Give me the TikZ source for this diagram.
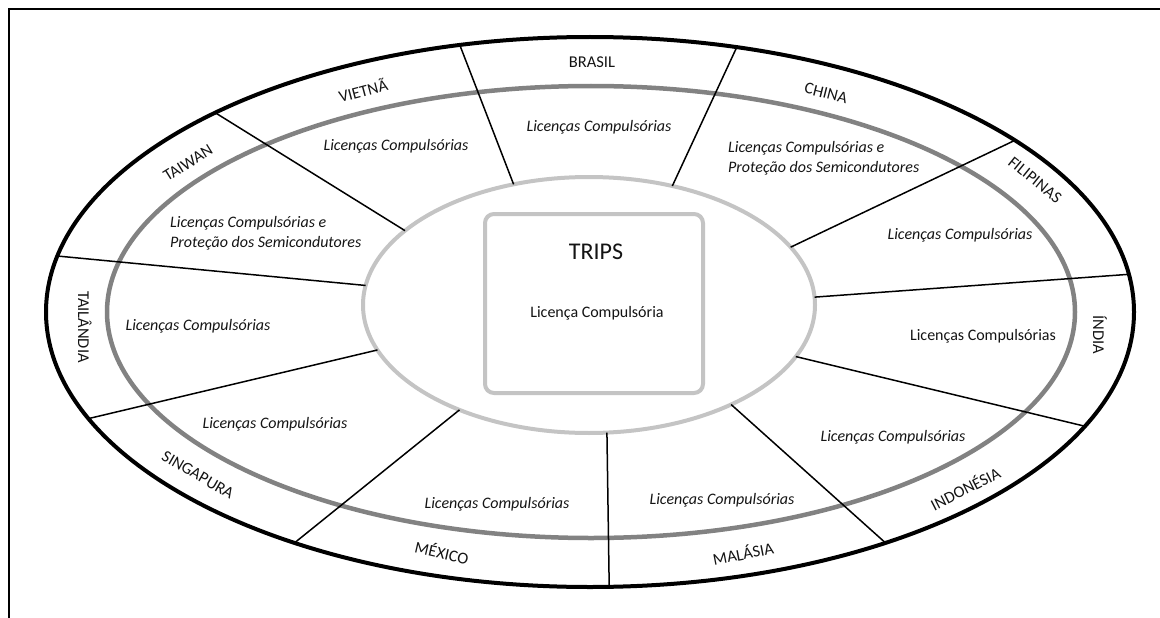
\documentclass[tikz,border=0pt]{standalone}
\usepackage{fontspec}
\setmainfont{Carlito}
\usetikzlibrary{shapes.geometric}
\definecolor{midgray}{RGB}{130,130,130}
\definecolor{softgray}{RGB}{196,196,196}
\definecolor{ink}{RGB}{20,20,20}
\tikzset{
  ring/.style={ellipse, inner sep=0pt, outer sep=0pt},
  frameline/.style={line width=2.5pt, black},
  divider/.style={line width=1.5pt, black},
  country/.style={font=\fontsize{16.5}{19}\selectfont, text=ink, inner sep=0pt},
  lic/.style={font=\fontsize{16}{20}\selectfont\itshape, text=ink, inner sep=0pt, align=left},
  licup/.style={font=\fontsize{16}{20}\selectfont, text=ink, inner sep=0pt},
}
\begin{document}
\begin{tikzpicture}[x=1pt,y=-1pt]
\useasboundingbox (0,0) rectangle (1160,618);
% frame
\coordinate (ftr) at (1160,9);
\coordinate (ftl) at (9,9);
\coordinate (fbl) at (9,618);
\draw[frameline] (ftr) -- (ftl) -- (fbl);
% rings
\node[ring, draw=black, line width=4pt, minimum width=1088pt, minimum height=550pt] (outer) at (590,312) {};
\node[ring, draw=midgray, line width=4.5pt, minimum width=968pt, minimum height=452pt] (mid) at (591,312) {};
\node[ring, draw=softgray, line width=4pt, fill=white, minimum width=452pt, minimum height=256pt] (inner) at (589,305) {};
\node[draw=softgray, line width=4pt, rounded corners=9pt, minimum width=218pt, minimum height=179pt, inner sep=0pt] (box) at (594,303.5) {};
% center texts
\node[font=\fontsize{24}{29}\selectfont, text=ink, inner sep=0pt] (trips) at (596,252) {TRIPS};
\node[licup] (lcc) at (597,313) {Licença Compulsória};
% dividers
\draw[divider] (inner.122.3) -- (outer.116.2);
\draw[divider] (inner.55.0) -- (outer.61.9);
\draw[divider] (inner.16.4) -- (outer.22.7);
\draw[divider] (inner.2.3) -- (outer.4.8);
\draw[divider] (inner.-14.1) -- (outer.-13.2);
\draw[divider] (inner.-35.8) -- (outer.-38.4);
\draw[divider] (inner.-82.9) -- (outer.-86.2);
\draw[divider] (inner.219.2) -- (outer.218.8);
\draw[divider] (inner.192.6) -- (outer.192.4);
\draw[divider] (inner.175.1) -- (outer.174.1);
\draw[divider] (inner.158.6) -- (outer.152.1);
% country labels
\node[country, rotate=15] (vietna) at (363,90) {VIETNÃ};
\node[country] (brasil) at (592,62) {BRASIL};
\node[country, rotate=-14] (china) at (826,93) {CHINA};
\node[country, rotate=-39] (filipinas) at (1035,180) {FILIPINAS};
\node[country, rotate=-90] (india) at (1100,335) {ÍNDIA};
\node[country, rotate=27] (indonesia) at (965,488) {INDONÉSIA};
\node[country, rotate=11] (malasia) at (743,553) {MALÁSIA};
\node[country, rotate=-13] (mexico) at (442,552) {MÉXICO};
\node[country, rotate=-30] (singapura) at (198,475) {SINGAPURA};
\node[country, rotate=-90] (tailandia) at (85,327) {TAILÂNDIA};
\node[country, rotate=32] (taiwan) at (188,163) {TAIWAN};
% segment texts
\node[lic] (tvietna) at (396,146) {Licenças Compulsórias};
\node[lic] (tbrasil) at (599,127) {Licenças Compulsórias};
\node[lic, anchor=west] (tchina) at (728,158) {Licenças Compulsórias e\\Proteção dos Semicondutores};
\node[lic] (tfilipinas) at (960,235) {Licenças Compulsórias};
\node[licup] (tindia) at (983,336) {Licenças Compulsórias};
\node[lic] (tindonesia) at (893,437) {Licenças Compulsórias};
\node[lic] (tmalasia) at (722,500) {Licenças Compulsórias};
\node[lic] (tmexico) at (497,504) {Licenças Compulsórias};
\node[lic] (tsingapura) at (275,424) {Licenças Compulsórias};
\node[lic] (ttailandia) at (198,326) {Licenças Compulsórias};
\node[lic, anchor=west] (ttaiwan) at (170,233) {Licenças Compulsórias e\\Proteção dos Semicondutores};
\end{tikzpicture}
\end{document}
